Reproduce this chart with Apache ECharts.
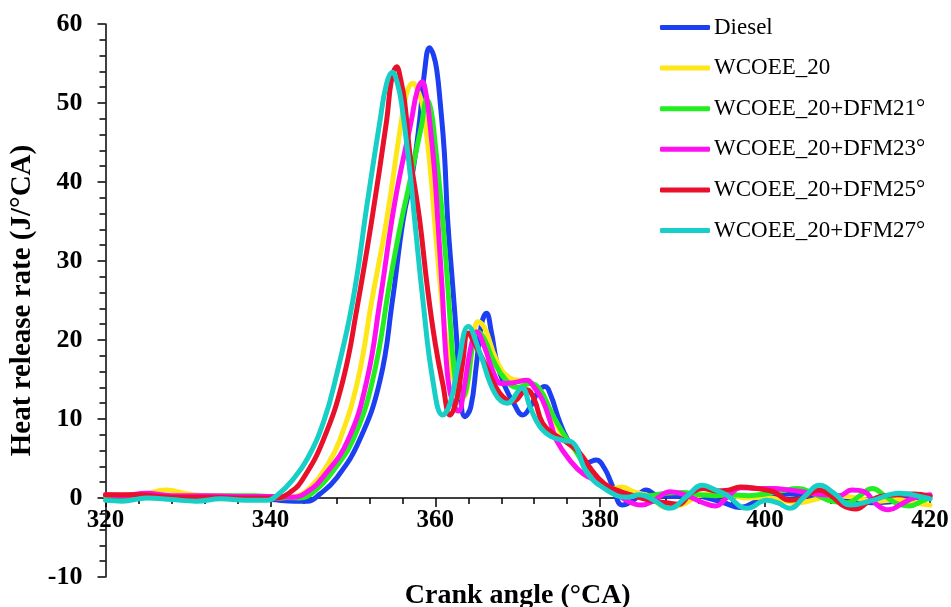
<!DOCTYPE html>
<html><head><meta charset="utf-8">
<script src="https://cdn.jsdelivr.net/npm/echarts@6/dist/echarts.min.js"></script>
<style>html,body{margin:0;padding:0;background:#fff}#c{width:951px;height:607px}</style>
</head><body><div id="c"></div><script>
const seriesNames = ['Diesel','WCOEE_20','WCOEE_20+DFM21°','WCOEE_20+DFM23°','WCOEE_20+DFM25°','WCOEE_20+DFM27°'];
const xTicks = [320, 420, 20];
const yTicks = [-10, 60, 10];

const angleDiesel = [320,325,330,335,340,343,344.5,346,348,350.8,353.3,354.8,356.1,357.3,358.1,358.7,359.3,359.8,360.2,360.6,361.1,361.5,362.1,362.6,363,363.6,364.3,365,365.6,366.2,366.8,367.5,368.5,369.5,370.6,371.5,372.5,373.3,374,375,376,377,378.5,379.5,380.5,381.5,382.7,384,385.6,387,389,391,393,395,397,399,401,403,405,407,409,411,413,415,417,419,420];
const hrrDiesel   = [0.2,0.3,0.1,0.0,-0.2,-0.4,-0.4,0.5,2.5,7.3,14.9,25,35.2,41.5,47.8,54,57,56,54,50,43.7,35.2,27,20,13.5,10.3,11.5,17,22,23.4,21,17,14,12,10.5,11.5,13.5,14.1,13,9.9,7.5,6.5,4.5,4.8,3.8,1.5,-0.9,-0.3,1.0,0.3,0.2,0.4,0.0,-0.6,-1.2,-0.4,0.3,0.5,0.3,0.4,0.0,-0.3,-0.6,-0.5,-0.2,0.2,0.3];

const angleW20 = [320,324,327.4,330,334,338,341,343,345,346.8,348.4,350.6,352.3,354.1,355.9,356.6,357.3,357.9,358.5,359.4,359.9,360.5,361.2,362,362.8,363.4,364,364.6,365.2,366,367.4,369,371.1,372.7,374,375.5,377,378.5,380,381.5,382.7,384,386,388,390,392,394,396,398,400,402,404,406,408,410,412,414,416,418,420];
const hrrW20   = [0.3,0.4,1.0,0.5,0.2,0.2,0.0,0.2,1.5,4,7.3,14.9,25,35.2,47.8,51.5,52.5,51.5,49.5,41.5,35.2,28,21,16,13.2,12.8,15,20,22.3,21.5,17.5,15.2,14.7,13.7,11,7.7,6.0,3.5,1.8,1.2,1.4,0.8,0.2,-1.2,-0.8,0.3,0.6,0.3,0.0,0.1,-0.3,-0.6,-0.2,0.3,0.2,-0.2,-0.4,-0.2,-0.6,-0.9];

const angleD21 = [320,325,330,335,338,341,343.5,345.5,348,350,352.4,354.6,355.9,356.7,357.5,358.3,359,359.5,359.9,360.9,361.5,362.2,362.7,363.2,363.8,364.5,365.2,366,367,368.5,370,371.5,372.7,374,375.5,377,378.5,380,382,384,386,388,390,392,394,396,398,400,402,404,406,408,410,411.5,413,414.5,416,417.5,419,420];
const hrrD21   = [0.3,0.2,0.2,0.3,0.3,0.1,0.0,1.0,4,7.3,14.9,28,35.2,39,43,47,50.4,49,45.7,35.2,27,17,13.5,12.7,14,19,21,20,17.5,15,14,14.5,13.7,11,8.2,6,3.5,2,0.8,0.2,0.3,0.6,0.7,0.4,0.3,0.4,0.3,0.5,0.9,1.2,0.5,-0.4,-0.6,0.3,1.2,0.3,-0.7,-1.0,-0.4,0];

const angleD23 = [320,322,325,328,332,336,340,342.7,344.5,346.5,349.4,351.7,353.3,355.1,357.1,357.8,358.4,358.9,359.3,359.9,360.3,360.8,361.4,362,362.8,363.5,364.3,365,366,367,368,369.5,371.1,372,373,374,374.7,376.3,378,380,381.5,383,385,386.5,388.5,390.5,392.5,394,395.5,397,399,401,403,405,407,409,410.5,412,413.5,415,416.5,418,420];
const hrrD23   = [0.4,0.3,0.6,0.3,0.3,0.2,0.2,0.1,0.8,2.8,7.3,14.9,25,37.5,47.8,51.5,52.7,51,47.8,41.5,35.2,27,16.5,12.5,11,14,19,21,19,16,14.5,14.6,14.9,14,12.4,9.5,7.3,4.8,3.0,2.0,1.0,-0.2,-0.9,-0.3,0.8,0.3,-0.6,-1.0,0.2,1.3,1.2,1.2,1.0,0.7,0.4,0.3,1.0,0.8,-0.8,-1.5,-0.8,0.0,0.4];

const angleD25 = [320,324,328,332,336,340.5,342.5,344,346.4,348.8,350.5,352.3,354.1,354.7,355.3,355.8,356.3,356.9,358.1,359,360,360.9,361.8,362.6,363.3,364,364.8,366.2,367.8,369.4,371.1,372,373,374.5,376,377.5,379,380.5,382,384,386,388,389.5,391,392.5,394,395.5,397,399,401,403,404.5,406.5,408,409.5,411,412.5,414,416,418,420];
const hrrD25   = [0.4,0.4,0.1,0.1,0.0,0.0,0.8,2.5,7.3,14.9,24,35.2,47.8,53,54.6,53,50,43.7,35.2,27,19.5,14.5,10.5,12.5,17,20.9,19.5,16.6,13.3,12.2,13.7,12.5,9.5,8.0,7.0,5.7,3.5,1.8,1.0,0.3,-0.3,-0.6,-0.8,0.6,1.2,0.9,1.0,1.4,1.2,0.8,-0.3,0.0,1.0,0.3,-1.0,-1.4,-0.5,0.2,0.4,0.5,0.2];

const angleD27 = [320,322,325,328,331,334,337,339.5,341,342.7,344.5,346.5,348,350,351.8,353.3,354.1,354.8,355.4,355.9,356.9,357.5,358.5,359.7,360.9,361.8,362.8,364,365.4,367.2,368.7,370.5,371.5,372.7,374,375.5,376.7,378.4,380.8,383.2,384.8,386.5,388.4,390.5,392.4,394,395.3,397.8,400.2,401.5,403,404.8,406.6,408.5,410.3,413,416.3,419.6,420];
const hrrD27   = [-0.3,-0.4,0.0,-0.2,-0.4,-0.1,-0.3,-0.3,0.5,2.3,5,9.8,15.5,25,37.7,47.8,52.5,53.9,52.5,50,41.5,35.2,25,14.9,10.5,12,17,21.7,18.4,13.3,12.0,13.9,11.5,9.0,7.8,7.3,7.0,3.2,1.0,0.1,0.4,-0.3,-1.3,0.2,1.6,1.0,0.4,-1.3,-0.3,-0.6,-1.3,0.2,1.6,0.5,-0.9,-0.3,0.6,0.0,-0.1];

const seriesAngles = [angleDiesel, angleW20, angleD21, angleD23, angleD25, angleD27];
const seriesValues = [hrrDiesel, hrrW20, hrrD21, hrrD23, hrrD25, hrrD27];
const seriesColors = ['#1d3ff2','#ffe618','#22ee22','#ff10f0','#e8102b','#17cfc6'];

const FONT = "'Liberation Serif','Times New Roman',serif";
const chart = echarts.init(document.getElementById('c'), null, {renderer:'canvas'});

const series = seriesNames.map((name, i) => ({
  name, type:'line', symbol:'none', smooth:0.45,
  data: seriesAngles[i].map((a, k) => [a, seriesValues[i][k]]),
  lineStyle:{color:seriesColors[i], width:5, cap:'round', join:'round'},
  itemStyle:{color:seriesColors[i]},
  emphasis:{disabled:true}, z: 2 + i
}));

// y=0 sits 79px above the bottom of the plot (value range -10..60 over 553px)
const zeroOffset = -553 * (0 - yTicks[0]) / (yTicks[1] - yTicks[0]);

chart.setOption({
  animation:false,
  backgroundColor:'#fff',
  grid:{left:105.5, right:21, top:24, bottom:30, containLabel:false, outerBoundsMode:'none'},
  legend:{
    orient:'vertical', left:660, top:16, padding:0,
    icon:'roundRect', itemWidth:50, itemHeight:5, itemGap:17.6,
    textStyle:{fontFamily:FONT, fontSize:23, color:'#000', padding:[0,0,0,-1]},
    data: seriesNames
  },
  xAxis:{
    type:'value', min:xTicks[0], max:xTicks[1], interval:xTicks[2],
    position:'bottom', offset: zeroOffset,
    name:'Crank angle (°CA)', nameLocation:'middle', nameGap:84,
    nameTextStyle:{fontFamily:FONT, fontSize:28, fontWeight:'bold', color:'#000'},
    axisLine:{show:true, onZero:false, lineStyle:{color:'#000', width:1.5}},
    axisTick:{show:true, length:9, lineStyle:{color:'#000', width:1.5}},
    minorTick:{show:true, splitNumber:5, length:6, lineStyle:{color:'#000', width:1.5}},
    splitLine:{show:false},
    axisLabel:{fontFamily:FONT, fontSize:25, fontWeight:'bold', color:'#000', margin:10, showMinLabel:true, showMaxLabel:true}
  },
  yAxis:{
    type:'value', min:yTicks[0], max:yTicks[1], interval:yTicks[2],
    name:'Heat release rate (J/°CA)', nameLocation:'middle', nameGap:64,
    nameTextStyle:{fontFamily:FONT, fontSize:29, fontWeight:'bold', color:'#000'},
    axisLine:{show:true, lineStyle:{color:'#000', width:1.5}},
    axisTick:{show:true, length:8, lineStyle:{color:'#000', width:1.5}},
    minorTick:{show:true, splitNumber:5, length:6, lineStyle:{color:'#000', width:1.5}},
    splitLine:{show:false},
    axisLabel:{fontFamily:FONT, fontSize:26, fontWeight:'bold', color:'#000', margin:23}
  },
  series
});
</script></body></html>
